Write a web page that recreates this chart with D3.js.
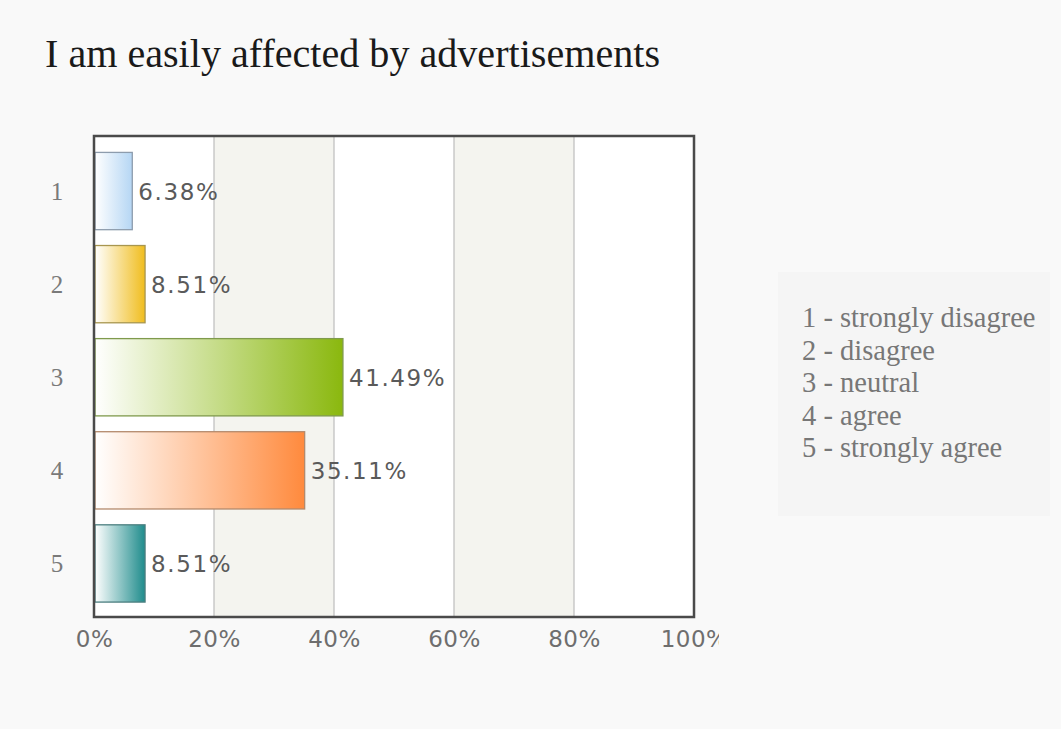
<!DOCTYPE html>
<html>
<head>
<meta charset="utf-8">
<script src="https://cdn.jsdelivr.net/npm/d3@7"></script>
<style>
  html, body { margin: 0; padding: 0; background: #f9f9f9; }
  svg { display: block; }
</style>
</head>
<body>
<svg id="chart" width="1061" height="729"></svg>
<script>
// Survey answers and their share of responses
const categories = ["1", "2", "3", "4", "5"];
const percents = [6.38, 8.51, 41.49, 35.11, 8.51];
const legendLabels = ["1 - strongly disagree", "2 - disagree", "3 - neutral", "4 - agree", "5 - strongly agree"];
const tickValues = [0, 20, 40, 60, 80, 100];
const titleText = "I am easily affected by advertisements";

// Bar colour ramps: each bar fades from white on the left to its colour on the right
const barColors = ["#b5d6f4", "#f0bd1e", "#8ab80e", "#ff8a3d", "#1f8c8c"];
const barStrokes = ["#8d9cad", "#a8964f", "#7f9a4c", "#b48a6c", "#4d7f80"];

const svg = d3.select("#chart");
const plot = { left: 94, right: 694, top: 136, bottom: 617 };

const x = d3.scaleLinear().domain([0, 100]).range([plot.left, plot.right]);
const y = d3.scaleBand().domain(categories).range([144.5, 610]).paddingInner(0.17).paddingOuter(0.085);

// Title
svg.append("text")
  .attr("x", 45).attr("y", 67)
  .attr("font-family", "Liberation Serif, Times New Roman, serif")
  .attr("font-size", 39)
  .attr("textLength", 615)
  .attr("lengthAdjust", "spacingAndGlyphs")
  .attr("fill", "#1a1a1a")
  .text(titleText);

// Plot background with alternating vertical bands
svg.append("rect")
  .attr("x", plot.left).attr("y", plot.top)
  .attr("width", plot.right - plot.left).attr("height", plot.bottom - plot.top)
  .attr("fill", "#ffffff");

const bands = d3.pairs(tickValues).filter((d, i) => i % 2 === 1);
svg.append("g").selectAll("rect").data(bands).join("rect")
  .attr("x", d => x(d[0])).attr("y", plot.top)
  .attr("width", d => x(d[1]) - x(d[0])).attr("height", plot.bottom - plot.top)
  .attr("fill", "#f4f4ef");

// Vertical gridlines
svg.append("g").selectAll("line").data(tickValues.slice(1, -1)).join("line")
  .attr("x1", d => x(d)).attr("x2", d => x(d))
  .attr("y1", plot.top).attr("y2", plot.bottom)
  .attr("stroke", "#bdbdbd").attr("stroke-width", 1.2);

// Gradients
const defs = svg.append("defs");
barColors.forEach((c, i) => {
  const g = defs.append("linearGradient").attr("id", "grad" + i)
    .attr("x1", "0%").attr("x2", "100%").attr("y1", "0%").attr("y2", "0%");
  g.append("stop").attr("offset", "0%").attr("stop-color", "#ffffff");
  g.append("stop").attr("offset", "100%").attr("stop-color", c);
});

// Tick labels run past the right edge of the chart box and get cut off there
defs.append("clipPath").attr("id", "axisClip")
  .append("rect").attr("x", 0).attr("y", 0).attr("width", 719).attr("height", 729);

// Bars
svg.append("g").selectAll("rect").data(percents).join("rect")
  .attr("x", x(0) + 1)
  .attr("y", (d, i) => y(categories[i]))
  .attr("width", d => x(d) - x(0) - 1)
  .attr("height", y.bandwidth())
  .attr("fill", (d, i) => `url(#grad${i})`)
  .attr("stroke", (d, i) => barStrokes[i])
  .attr("stroke-width", 1.3);

// Value labels
svg.append("g").selectAll("text").data(percents).join("text")
  .attr("x", d => x(d) + 6)
  .attr("y", (d, i) => y(categories[i]) + y.bandwidth() / 2 + 9)
  .attr("font-family", "DejaVu Sans, Verdana, sans-serif")
  .attr("font-size", 23)
  .attr("letter-spacing", 1.6)
  .attr("fill", "#5a5a5a")
  .text(d => d.toFixed(2) + "%");

// Plot frame
svg.append("rect")
  .attr("x", plot.left).attr("y", plot.top)
  .attr("width", plot.right - plot.left).attr("height", plot.bottom - plot.top)
  .attr("fill", "none").attr("stroke", "#4a4a4a").attr("stroke-width", 2.5);

// Category labels
svg.append("g").selectAll("text").data(categories).join("text")
  .attr("x", 57)
  .attr("y", d => y(d) + y.bandwidth() / 2 + 9)
  .attr("text-anchor", "middle")
  .attr("font-family", "Liberation Serif, Times New Roman, serif")
  .attr("font-size", 25)
  .attr("fill", "#7a7a7a")
  .text(d => d);

// X axis tick labels
const xAxis = svg.append("g")
  .attr("clip-path", "url(#axisClip)")
  .append("g")
  .attr("transform", `translate(0,${plot.bottom})`)
  .call(d3.axisBottom(x).tickValues(tickValues).tickSize(0).tickPadding(14).tickFormat(d => d + "%"));
xAxis.select(".domain").remove();
xAxis.selectAll("text")
  .attr("font-family", "DejaVu Sans, Verdana, sans-serif")
  .attr("font-size", 23)
  .attr("letter-spacing", 0.5)
  .attr("fill", "#6e6e6e");

// Legend
const legend = svg.append("g");
legend.append("rect")
  .attr("x", 778).attr("y", 272).attr("width", 272).attr("height", 244)
  .attr("fill", "#f5f5f5");
legend.selectAll("text").data(legendLabels).join("text")
  .attr("x", 802)
  .attr("y", (d, i) => 327 + i * 32.5)
  .attr("font-family", "Liberation Serif, Times New Roman, serif")
  .attr("font-size", 28.5)
  .attr("fill", "#777777")
  .text(d => d);
</script>
</body>
</html>
